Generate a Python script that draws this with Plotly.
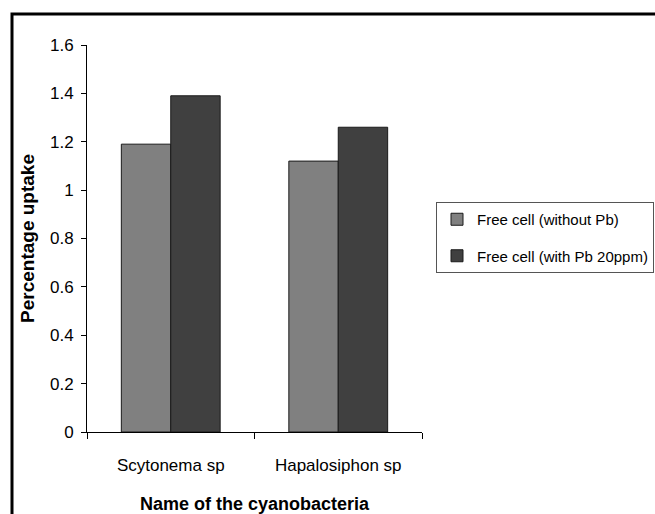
import plotly.graph_objects as go

categories = ["Scytonema sp", "Hapalosiphon sp"]
without_pb = [1.19, 1.12]
with_pb = [1.39, 1.26]
series_names = ["Free cell (without Pb)", "Free cell (with Pb 20ppm)"]
y_ticks = [0, 0.2, 0.4, 0.6, 0.8, 1, 1.2, 1.4, 1.6]
y_tick_labels = ["0", "0.2", "0.4", "0.6", "0.8", "1", "1.2", "1.4", "1.6"]

FONT = "Liberation Sans, Arial, sans-serif"

fig = go.Figure()
fig.add_trace(go.Bar(x=categories, y=without_pb, name=series_names[0], legendgroup="g1",
                     marker=dict(color="#808080", line=dict(color="#1a1a1a", width=1))))
fig.add_trace(go.Bar(x=categories, y=with_pb, name=series_names[1], legendgroup="g2",
                     marker=dict(color="#404040", line=dict(color="#1a1a1a", width=1))))

W, H = 655, 514
L, R, T, B = 87, 233, 45, 82
pw, ph = W - L - R, H - T - B

fig.update_layout(
    width=W, height=H,
    margin=dict(l=L, r=R, t=T, b=B, pad=0, autoexpand=False),
    paper_bgcolor="white", plot_bgcolor="white",
    barmode="group", bargap=0.41, bargroupgap=0,
    font=dict(family=FONT, color="black", size=16),
    showlegend=True,
    legend=dict(x=(436 - L) / pw, y=(H - B - 202) / ph, xanchor="left", yanchor="top",
                bgcolor="white", bordercolor="#555555", borderwidth=1,
                font=dict(family=FONT, size=15, color="black"),
                itemwidth=30, tracegroupgap=14),
    xaxis=dict(type="category", range=[-0.5, 1.5], showline=True, linecolor="black", linewidth=1,
               ticks="outside", tickson="boundaries", ticklen=6, tickcolor="black",
               showgrid=False, automargin=False, ticklabelstandoff=18,
               tickfont=dict(family=FONT, size=17),
               title=dict(text="<b>Name of the cyanobacteria</b>", standoff=22,
                          font=dict(family=FONT, size=18))),
    yaxis=dict(range=[0, 1.6], tickvals=y_ticks, ticktext=y_tick_labels, showline=True,
               linecolor="black", linewidth=1, ticks="outside", ticklen=5, tickcolor="black",
               showgrid=False, zeroline=False, automargin=False, ticklabelstandoff=4,
               tickfont=dict(family=FONT, size=17),
               title=dict(text="<b>Percentage uptake</b>", standoff=10,
                          font=dict(family=FONT, size=19))),
    shapes=[dict(type="rect", xref="paper", yref="paper",
                 x0=(12 - L) / pw, x1=(W + 20 - L) / pw,
                 y0=-(B + 20) / ph, y1=(H - B - 14) / ph,
                 line=dict(color="black", width=3))],
)

fig.write_html("out.html", config={"displayModeBar": False},
               post_script="document.body.style.margin='0';")
